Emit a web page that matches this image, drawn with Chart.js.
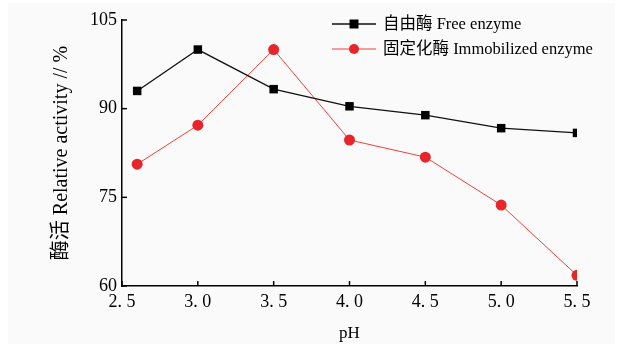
<!DOCTYPE html>
<html>
<head>
<meta charset="utf-8">
<script src="https://cdn.jsdelivr.net/npm/chart.js@4.4.0/dist/chart.umd.min.js"></script>
<style>
  html, body { margin: 0; padding: 0; background: #fff; }
  .C_wrap { position: relative; width: 622px; height: 344px; }
  .C_bg { position: absolute; left: 8px; top: 3px; width: 607px; height: 341px; background: #fafafa; }
  canvas { position: absolute; left: 0; top: 0; }
</style>
</head>
<body>
<div class="C_wrap">
  <div class="C_bg"></div>
  <canvas id="myChart" width="622" height="344"></canvas>
</div>
<script>
// pH values
const phFree = [2.6, 3.0, 3.5, 4.0, 4.5, 5.0, 5.5]
const phImmob = [2.6, 3.0, 3.5, 4.0, 4.5, 5.0, 5.5]
// relative activity, %
const freeEnzyme = [93.0, 100.0, 93.3, 90.4, 88.9, 86.7, 85.9]
const immobEnzyme = [80.6, 87.2, 100.0, 84.7, 81.8, 73.7, 61.8]
const seriesNames = ['自由酶 Free enzyme', '固定化酶 Immobilized enzyme']

const serif = "'Liberation Serif', 'Noto Sans CJK SC', serif"

const toPoints = (xs, ys) => xs.map((x, i) => ({ x: x, y: ys[i] }))

// ticks pointing into the plot + legend inside the plot
const innerStuff = {
    id: 'innerStuff',
    afterDraw(chart) {
        const ctx = chart.ctx
        const xs = chart.scales.x
        const ys = chart.scales.y
        const area = chart.chartArea
        ctx.save()
        ctx.strokeStyle = '#000'
        ctx.lineWidth = 1.5
        xs.ticks.forEach((t, i) => {
            const px = xs.getPixelForTick(i)
            ctx.beginPath()
            ctx.moveTo(px, area.bottom)
            ctx.lineTo(px, area.bottom - 5)
            ctx.stroke()
        })
        ys.ticks.forEach((t, i) => {
            const py = ys.getPixelForTick(i)
            ctx.beginPath()
            ctx.moveTo(area.left, py)
            ctx.lineTo(area.left + 5, py)
            ctx.stroke()
        })

        // legend
        chart.data.datasets.forEach((ds, i) => {
            const y = 24 + i * 25
            ctx.strokeStyle = ds.borderColor
            ctx.lineWidth = ds.borderWidth
            ctx.beginPath()
            ctx.moveTo(332, y)
            ctx.lineTo(376, y)
            ctx.stroke()
            ctx.fillStyle = ds.pointBackgroundColor
            if (ds.pointStyle === 'rect') {
                ctx.fillRect(349.5, y - 4.5, 9, 9)
            } else {
                ctx.beginPath()
                ctx.arc(354, y, 5, 0, Math.PI * 2)
                ctx.fill()
            }
            ctx.fillStyle = '#000'
            ctx.font = "16.5px " + serif
            ctx.textBaseline = 'middle'
            ctx.textAlign = 'left'
            ctx.fillText(ds.label, 383, y + 1)
        })
        ctx.restore()
    }
}

var myChart = new Chart(document.getElementById('myChart'), {
    type: 'line',
    data: {
        datasets: [{
            label: seriesNames[0],
            data: toPoints(phFree, freeEnzyme),
            borderColor: '#111',
            backgroundColor: '#000',
            pointBackgroundColor: '#000',
            pointBorderColor: '#000',
            pointStyle: 'rect',
            pointRadius: 6,
            pointBorderWidth: 0,
            borderWidth: 1.3
        }, {
            label: seriesNames[1],
            data: toPoints(phImmob, immobEnzyme),
            borderColor: '#f0413a',
            backgroundColor: '#e8262a',
            pointBackgroundColor: '#e8262a',
            pointBorderColor: '#e8262a',
            pointStyle: 'circle',
            pointRadius: 5.5,
            pointBorderWidth: 0,
            borderWidth: 1
        }]
    },
    options: {
        responsive: false,
        animation: false,
        layout: { padding: { left: 0, right: 45, top: 20, bottom: 0 } },
        plugins: {
            legend: { display: false },
            tooltip: { enabled: false }
        },
        scales: {
            x: {
                type: 'linear',
                min: 2.5,
                max: 5.5,
                afterFit: scale => { scale.height = 58 },
                border: { display: true, color: '#000', width: 1.5 },
                grid: { display: false },
                ticks: {
                    stepSize: 0.5,
                    color: '#000',
                    padding: -3,
                    font: { family: serif, size: 18 },
                    callback: v => v.toFixed(1).replace('.', '. ')
                },
                title: {
                    display: true,
                    text: 'pH',
                    color: '#000',
                    padding: { top: 2, bottom: 0 },
                    font: { family: serif, size: 17 }
                }
            },
            y: {
                min: 60,
                max: 105,
                afterFit: scale => { scale.width = 122 },
                border: { display: true, color: '#000', width: 1.5 },
                grid: { display: false },
                ticks: {
                    stepSize: 15,
                    color: '#000',
                    padding: -3,
                    font: { family: serif, size: 18 }
                },
                title: {
                    display: true,
                    text: '酶活 Relative activity // %',
                    color: '#000',
                    padding: { top: 50, bottom: 0 },
                    font: { family: serif, size: 20 }
                }
            }
        }
    },
    plugins: [innerStuff]
});
</script>
</body>
</html>
